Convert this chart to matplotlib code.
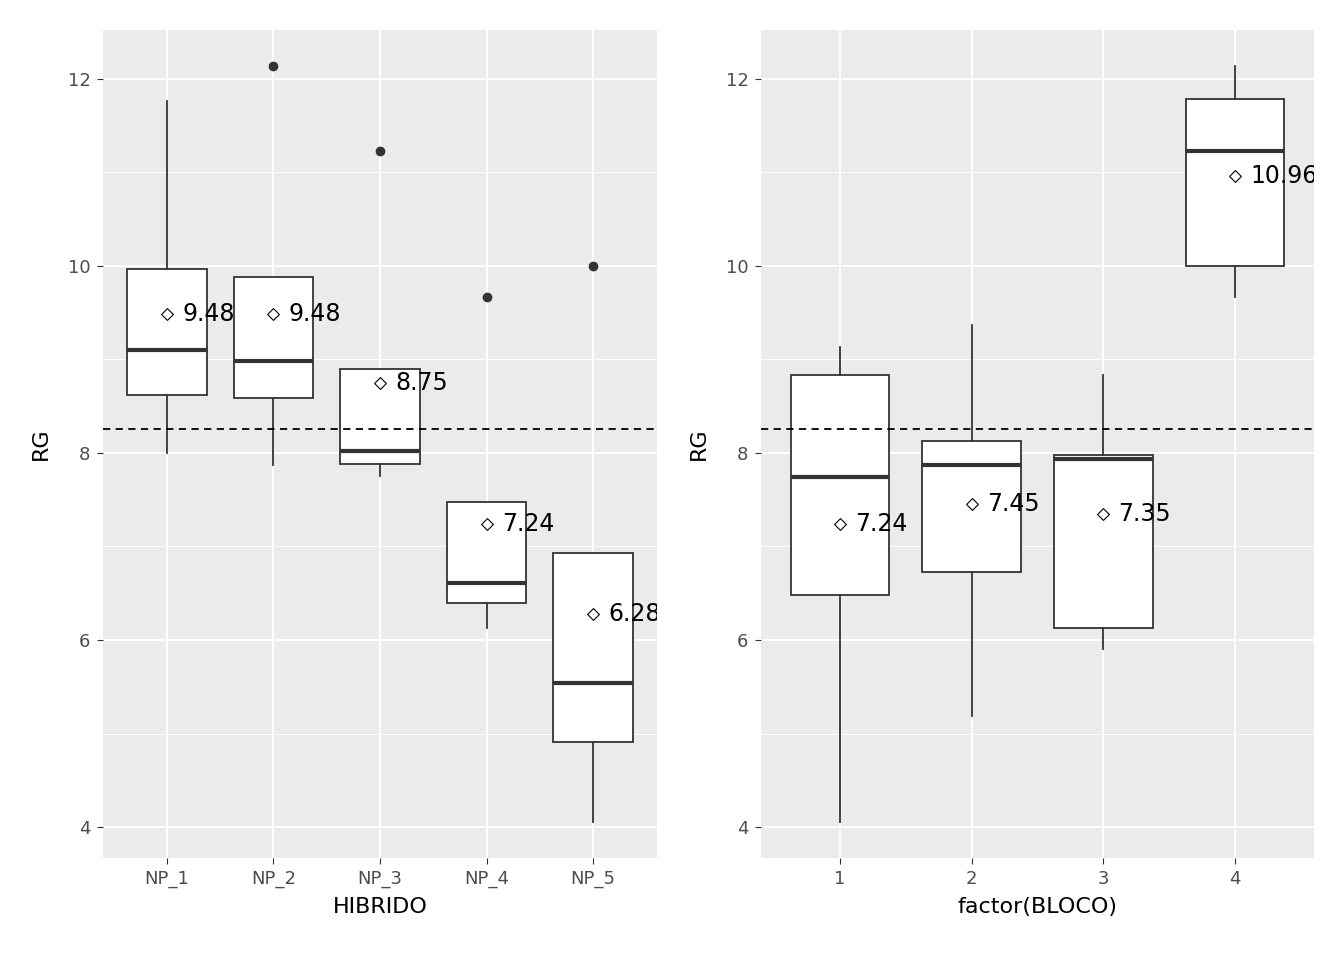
import matplotlib.pyplot as plt
import numpy as np

# left panel: RG by HIBRIDO
hib_labels = ['NP_1', 'NP_2', 'NP_3', 'NP_4', 'NP_5']
hib_lo = [8.00, 7.87, 7.75, 6.13, 4.06]
hib_q1 = [8.62, 8.59, 7.88, 6.40, 4.91]
hib_med = [9.10, 8.98, 8.02, 6.61, 5.54]
hib_q3 = [9.97, 9.88, 8.90, 7.47, 6.93]
hib_hi = [11.76, 9.88, 8.90, 7.47, 6.93]
hib_out = [[], [12.14], [11.23], [9.67], [10.0]]
hib_mean = [9.48, 9.48, 8.75, 7.24, 6.28]

# right panel: RG by BLOCO
bloco_labels = ['1', '2', '3', '4']
bloco_lo = [4.06, 5.19, 5.90, 9.67]
bloco_q1 = [6.48, 6.73, 6.13, 10.00]
bloco_med = [7.74, 7.87, 7.93, 11.23]
bloco_q3 = [8.83, 8.13, 7.98, 11.78]
bloco_hi = [9.13, 9.37, 8.83, 12.14]
bloco_out = [[], [], [], []]
bloco_mean = [7.24, 7.45, 7.35, 10.96]

grand_mean = 8.26

fig = plt.figure(figsize=(13.44, 9.6), dpi=100)
ax1 = fig.add_axes([103/1344, 1-858/960, 554/1344, 828/960])
ax2 = fig.add_axes([761/1344, 1-858/960, 553/1344, 828/960])

def panel(ax, labels, lo, q1, med, q3, hi, out, mean, xlabel):
    n = len(labels)
    pos = np.arange(1, n+1)
    stats = []
    for i in range(n):
        stats.append(dict(whislo=lo[i], q1=q1[i], med=med[i], q3=q3[i],
                          whishi=hi[i], fliers=out[i]))
    ax.set_facecolor('#EBEBEB')
    for v in [5, 7, 9, 11]:
        ax.axhline(v, color='white', lw=0.7, zorder=0)
    for v in [4, 6, 8, 10, 12]:
        ax.axhline(v, color='white', lw=1.4, zorder=0)
    for p in pos:
        ax.axvline(p, color='white', lw=1.4, zorder=0)
    ax.bxp(stats, positions=pos, widths=0.75, patch_artist=True, showcaps=False,
           boxprops=dict(facecolor='white', edgecolor='#333333', lw=1.3),
           medianprops=dict(color='#333333', lw=3),
           whiskerprops=dict(color='#333333', lw=1.3),
           flierprops=dict(marker='o', markerfacecolor='#333333',
                           markeredgecolor='#333333', markersize=6), zorder=2)
    ax.axhline(grand_mean, color='black', lw=1.3, ls=(0, (4, 3)), zorder=3)
    ax.scatter(pos, mean, marker='D', s=36, facecolor='white',
               edgecolor='black', lw=0.8, zorder=4)
    for p, m in zip(pos, mean):
        ax.annotate('%.2f' % m, (p, m), xytext=(11, 0), textcoords='offset points',
                    fontsize=17, va='center', ha='left',
                    annotation_clip=True, clip_on=True, zorder=5)
    ax.set_xlim(0.4, n + 0.6)
    ax.set_ylim(3.67, 12.52)
    ax.set_yticks([4, 6, 8, 10, 12])
    ax.set_xticks(pos)
    ax.set_xticklabels(labels)
    ax.tick_params(colors='#333333', labelcolor='#4D4D4D', labelsize=13, length=4, pad=5)
    for s in ax.spines.values():
        s.set_visible(False)
    ax.set_xlabel(xlabel, fontsize=16, labelpad=6)
    ax.set_ylabel('RG', fontsize=16, labelpad=12)

panel(ax1, hib_labels, hib_lo, hib_q1, hib_med, hib_q3, hib_hi, hib_out, hib_mean, 'HIBRIDO')
panel(ax2, bloco_labels, bloco_lo, bloco_q1, bloco_med, bloco_q3, bloco_hi, bloco_out, bloco_mean, 'factor(BLOCO)')

for t in fig.findobj(match=lambda a: hasattr(a, 'get_text') and a.get_text().endswith(('.28', '.96'))):
    t.set_clip_on(True)

fig.savefig('out.png', dpi=100)
